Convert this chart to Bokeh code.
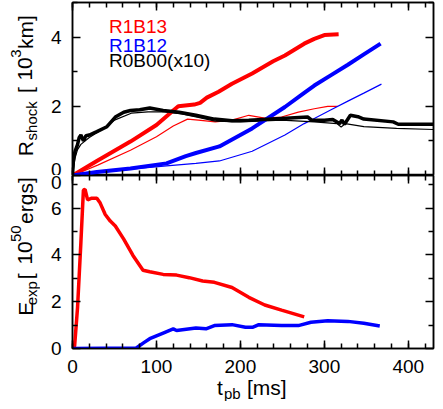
import math
from bokeh.plotting import figure
from bokeh.layouts import column, row
from bokeh.models import Range1d, LinearAxis, SingleIntervalTicker, FixedTicker, Label
from bokeh.embed import file_html
from bokeh.resources import INLINE

# ---------------- data ----------------
# top panel: shock radius [10^3 km]
t_r13_thick = [0, 29, 69, 100, 120, 126, 145, 152, 160, 174, 190, 214, 239, 253, 276, 288, 300, 317]
r_r13_thick = [0, 0.42, 0.98, 1.46, 1.88, 2.0, 2.05, 2.1, 2.25, 2.42, 2.65, 2.95, 3.3, 3.47, 3.81, 3.95, 4.06, 4.08]

t_r13_thin = [0, 30, 69, 100, 120, 137, 150, 170, 190, 210, 229, 249, 269, 288, 304, 316]
r_r13_thin = [0, 0.3, 0.73, 1.12, 1.43, 1.63, 1.6, 1.55, 1.6, 1.74, 1.66, 1.69, 1.83, 1.93, 2.0, 2.0]

t_r12_thick = [0, 29, 69, 112, 135, 147, 175, 214, 253, 276, 288, 308, 328, 347, 367]
r_r12_thick = [0, 0.1, 0.2, 0.35, 0.56, 0.65, 0.84, 1.36, 1.98, 2.39, 2.6, 2.9, 3.2, 3.5, 3.81]

t_r12_thin = [0, 30, 69, 112, 147, 175, 214, 253, 276, 288, 308, 328, 347, 368]
r_r12_thin = [0, 0.08, 0.18, 0.28, 0.35, 0.42, 0.70, 1.17, 1.5, 1.65, 1.9, 2.15, 2.38, 2.64]

t_r0_thick = [0, 1, 3, 6, 8, 10, 13, 16, 20, 29, 41, 51, 61, 69, 80, 92, 108, 127, 147, 169,
              190, 210, 249, 280, 285, 300, 310, 318, 321, 324, 331, 340, 347, 382, 388, 430]
r_r0_thick = [0, 0.42, 0.7, 0.89, 1.1, 1.17, 1.0, 1.15, 1.17, 1.27, 1.41, 1.69, 1.83, 1.88, 1.9, 1.95, 1.88, 1.83, 1.74, 1.63,
              1.58, 1.6, 1.65, 1.69, 1.6, 1.6, 1.62, 1.5, 1.6, 1.48, 1.74, 1.7, 1.63, 1.55, 1.48, 1.48]

t_r0_thin = [0, 3, 6, 10, 20, 30, 50, 70, 90, 110, 130, 150, 170, 200, 249, 288, 315, 320, 325, 347, 386, 430]
r_r0_thin = [0, 0.5, 0.75, 0.9, 1.1, 1.25, 1.6, 1.8, 1.84, 1.84, 1.78, 1.68, 1.57, 1.55, 1.6, 1.55, 1.5, 1.4, 1.5, 1.41, 1.36, 1.33]

# bottom panel: explosion energy [10^50 erg]
t_e13 = [0, 2.5, 6, 10, 13, 15, 18, 23, 29, 33, 39, 45, 51, 61, 72, 84, 92, 108, 124, 139, 155, 169,
         190, 210, 229, 249, 276]
e_e13 = [0, 0.1, 1.75, 4.54, 6.78, 6.8, 6.36, 6.43, 6.43, 6.22, 5.73, 5.45, 5.24, 4.68, 3.98, 3.35, 3.28, 3.17,
         3.14, 3.03, 2.89, 2.83, 2.61, 2.19, 1.86, 1.64, 1.35]

t_e12 = [0, 76, 85, 92, 108, 120, 124, 147, 159, 169, 190, 206, 215, 222, 249, 269, 284, 304, 328, 347, 366]
e_e12 = [0, 0.02, 0.25, 0.42, 0.66, 0.84, 0.77, 0.88, 0.84, 0.98, 1.02, 0.91, 0.91, 1.02, 0.98, 0.98, 1.12,
         1.19, 1.16, 1.08, 0.96]

legend_names = ["R1B13", "R1B12", "R0B00(x10)"]
legend_colors = ["#ff0000", "#0000ff", "#000000"]
legend_t = 43.5
legend_r = [4.3, 3.76, 3.31]

x_ticks_major = 100
r_ticks_major = [0, 2, 4]
r_ticks_minor = [1, 3, 5]
e_ticks_major = [0, 2, 4, 6]
e_ticks_minor = [1, 3, 5, 7]

# ---------------- layout constants ----------------
FONT = "Liberation Sans"
TOTAL_W = 435
STRIP_W = 40
MAIN_W = TOTAL_W - STRIP_W
BL, BR = 32, 2
TOP_H = 175          # top panel: frame rows 2..175
TOP_BT = 2
BOT_FRAME = 175      # bottom panel frame rows 175..350
BOT_BB = 25          # x tick labels
XLAB_H = 26          # strip for the x-axis title
XMAX, RMAX, EMAX = 430, 5, 7.4
MAIN, SUB = 21, 15
ROT_SHIFT = 0.25     # baseline offset of rotated text (in em)
HOR_SHIFT = 0.15


def make_fig(height, ymax, bt, bb):
    p = figure(width=MAIN_W, height=height, x_range=Range1d(0, XMAX), y_range=Range1d(0, ymax),
               output_backend="svg", toolbar_location=None,
               min_border_left=BL, min_border_right=BR, min_border_top=bt, min_border_bottom=bb)
    p.grid.visible = False
    p.outline_line_color = "black"
    p.outline_line_width = 1.5
    p.background_fill_color = "white"
    p.border_fill_color = "white"
    return p


def style(ax, ticker, labels):
    ax.ticker = ticker
    ax.axis_line_color = "black"
    ax.axis_line_width = 1.5
    ax.major_tick_in = 8
    ax.major_tick_out = 0
    ax.minor_tick_in = 5
    ax.minor_tick_out = 0
    ax.major_tick_line_color = "black"
    ax.minor_tick_line_color = "black"
    ax.major_tick_line_width = 1.5
    ax.minor_tick_line_width = 1.5
    if labels:
        ax.major_label_text_font = FONT
        ax.major_label_text_font_size = "19px"
        ax.major_label_text_color = "black"
        ax.major_label_standoff = 11
    else:
        ax.major_label_text_color = None
        ax.major_label_text_font_size = "1px"
        ax.major_label_standoff = 0


def xticker():
    return SingleIntervalTicker(interval=x_ticks_major, num_minor_ticks=5)


def strip(w, h):
    f = figure(width=w, height=h, x_range=Range1d(0, w), y_range=Range1d(h, 0),
               x_axis_type=None, y_axis_type=None, output_backend="svg", toolbar_location=None,
               min_border_left=0, min_border_right=0, min_border_top=0, min_border_bottom=0)
    f.outline_line_color = None
    f.background_fill_color = "white"
    f.border_fill_color = "white"
    return f


def vlabel(f, pieces):
    # pieces: (text, size, start_y, baseline_x)
    for text, size, y0, xb in pieces:
        f.add_layout(Label(x=xb - ROT_SHIFT * size, y=y0, text=text, angle=math.pi / 2, text_font=FONT,
                           text_font_size=f"{size}px", text_align="left", text_baseline="alphabetic",
                           text_color="black"))


def hlabel(f, pieces):
    for text, size, x0, yb in pieces:
        f.add_layout(Label(x=x0, y=yb - HOR_SHIFT * size, text=text, text_font=FONT,
                           text_font_size=f"{size}px", text_align="left", text_baseline="alphabetic",
                           text_color="black"))


# ---------------- top panel ----------------
top = make_fig(TOP_H, RMAX, TOP_BT, 0)
style(top.xaxis[0], xticker(), False)
style(top.yaxis[0], FixedTicker(ticks=r_ticks_major, minor_ticks=r_ticks_minor), True)
a = LinearAxis(); style(a, xticker(), False); top.add_layout(a, "above")
r = LinearAxis(); style(r, FixedTicker(ticks=r_ticks_major, minor_ticks=r_ticks_minor), False); top.add_layout(r, "right")

top.line(t_r13_thin, r_r13_thin, line_color="#ff0000", line_width=1.2)
top.line(t_r12_thin, r_r12_thin, line_color="#0000ff", line_width=1.2)
top.line(t_r0_thin, r_r0_thin, line_color="black", line_width=1.2)
top.line(t_r13_thick, r_r13_thick, line_color="#ff0000", line_width=4)
top.line(t_r12_thick, r_r12_thick, line_color="#0000ff", line_width=4)
top.line(t_r0_thick, r_r0_thick, line_color="black", line_width=3.5)

for name, col, rr in zip(legend_names, legend_colors, legend_r):
    top.add_layout(Label(x=legend_t, y=rr, text=name, text_color=col, text_font=FONT,
                         text_font_size="19px", text_align="left", text_baseline="alphabetic"))

# ---------------- bottom panel ----------------
bot = make_fig(BOT_FRAME + BOT_BB, EMAX, 0, BOT_BB)
style(bot.xaxis[0], xticker(), True)
# extra major tick at the shared edge: it carries the lower half of the top panel's "0"
style(bot.yaxis[0], FixedTicker(ticks=e_ticks_major + [EMAX], minor_ticks=e_ticks_minor), True)
bot.yaxis[0].major_label_overrides = {EMAX: "0"}
a = LinearAxis(); style(a, xticker(), False); bot.add_layout(a, "above")
r = LinearAxis(); style(r, FixedTicker(ticks=e_ticks_major, minor_ticks=e_ticks_minor), False); bot.add_layout(r, "right")

bot.line(t_e13, e_e13, line_color="#ff0000", line_width=3.5)
bot.line(t_e12, e_e12, line_color="#0000ff", line_width=3.5)

# ---------------- axis titles (text strips) ----------------
L1 = strip(STRIP_W, TOP_H)
vlabel(L1, [("R", MAIN, 155.5, 30), ("shock", SUB, 139.5, 35), ("[", MAIN, 91.5, 30),
            ("10", MAIN, 79, 30), ("3", SUB, 56, 19), ("km]", MAIN, 47, 30)])

L2 = strip(STRIP_W, BOT_FRAME + BOT_BB)
o = TOP_H  # strip L2 starts at picture row 175
vlabel(L2, [("E", MAIN, 337 - o, 30), ("exp", SUB, 325 - o, 35), ("[", MAIN, 295 - o, 30),
            ("10", MAIN, 278 - o, 30), ("50", SUB, 252 - o, 19), ("ergs]", MAIN, 231 - o, 30)])

XL = strip(TOTAL_W, XLAB_H)
hlabel(XL, [("t", MAIN, 216.5, 15), ("pb", SUB, 223.5, 20.5), ("[ms]", MAIN, 246.5, 15)])

layout = column(row(L1, top), row(L2, bot), XL)
open("out.html", "w").write(file_html(layout, INLINE))
